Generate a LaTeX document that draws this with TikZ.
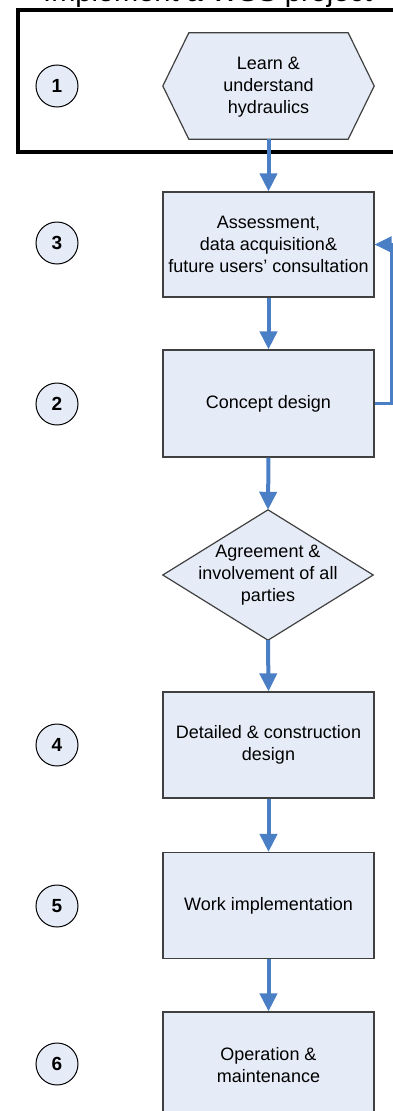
\documentclass[tikz,border=0pt]{standalone}
\usepackage{fontspec}
\setmainfont{Liberation Sans}
\usetikzlibrary{arrows.meta}
\definecolor{boxfill}{HTML}{E6ECF7}
\definecolor{flowblue}{HTML}{4A7EC5}
\definecolor{boxline}{HTML}{404040}
\begin{document}
\begin{tikzpicture}[x=1pt,y=-1pt,
  every node/.style={font=\fontsize{18}{22}\selectfont, align=center, inner sep=0pt},
  stepbox/.style={draw=boxline, fill=boxfill, line width=1.2pt, minimum width=211pt, minimum height=106pt},
  holder/.style={minimum width=211pt, minimum height=106pt},
  shapeline/.style={draw=boxline, fill=boxfill, line width=1.2pt},
  numcirc/.style={circle, draw=black, fill=boxfill, line width=1pt, minimum size=42pt, font=\fontsize{19}{22}\selectfont\bfseries},
  flow/.style={draw=flowblue, line width=4pt, -{Triangle[width=17pt,length=18pt]}},
  backflow/.style={draw=flowblue, line width=2.6pt, -{Triangle[width=16pt,length=17pt]}},
  frameline/.style={draw=black, line width=4pt}
]
\useasboundingbox (0,0) rectangle (393,1111);
\clip (0,0) rectangle (393,1111);

% title (cut off at top, as in the reference)
\node (title) [anchor=base west, font=\fontsize{29}{30}\selectfont] at (43,1.5) {Implement a WSS project};

% frame
\draw[frameline] (400,10) -- (17.5,10) -- (17.5,152) -- (400,152);

% hexagon
\node (learnbg) [holder] at (268.5,86) {};
\path[shapeline] (learnbg.west) -- ([xshift=26pt]learnbg.north west) -- ([xshift=-26pt]learnbg.north east)
  -- (learnbg.east) -- ([xshift=-26pt]learnbg.south east) -- ([xshift=26pt]learnbg.south west) -- cycle;
\node (learn) at ([yshift=-1pt]learnbg.center) {Learn \&\\understand\\hydraulics};

% boxes
\node (assess) [stepbox, minimum height=105pt] at (268.5,244.5) {Assessment,\\data acquisition\&\\future users’ consultation};
\node (concept) [stepbox, minimum height=107pt] at (268.5,403.5) {Concept design};

% diamond
\node (agreebg) [minimum width=210pt, minimum height=130pt] at (268,575) {};
\path[shapeline] (agreebg.north) -- (agreebg.east) -- (agreebg.south) -- (agreebg.west) -- cycle;
\node (agree) at (agreebg.center) {Agreement \&\\involvement of all\\parties};

\node (detail) [stepbox] at (268.5,745) {Detailed \& construction\\design};
\node (work) [stepbox] at (268.5,905.5) {Work implementation};
\node (oper) [stepbox] at (268.5,1065) {Operation \&\\maintenance};

% number circles
\node (c1) [numcirc] at (57,86) {1};
\node (c3) [numcirc] at (57,243) {3};
\node (c2) [numcirc] at (57,404) {2};
\node (c4) [numcirc] at (57,745) {4};
\node (c5) [numcirc] at (57,906) {5};
\node (c6) [numcirc] at (57,1064) {6};

% connectors
\draw[flow] (learnbg.south) -- (assess.north);
\draw[flow] (assess.south) -- (concept.north);
\draw[flow] (concept.south) -- (agreebg.north);
\draw[flow] (agreebg.south) -- (detail.north);
\draw[flow] (detail.south) -- (work.north);
\draw[flow] (work.south) -- (oper.north);

\coordinate (fb) at (391.5,320);
\draw[backflow] (concept.east) -| (fb) |- (assess.east);
\end{tikzpicture}
\end{document}
